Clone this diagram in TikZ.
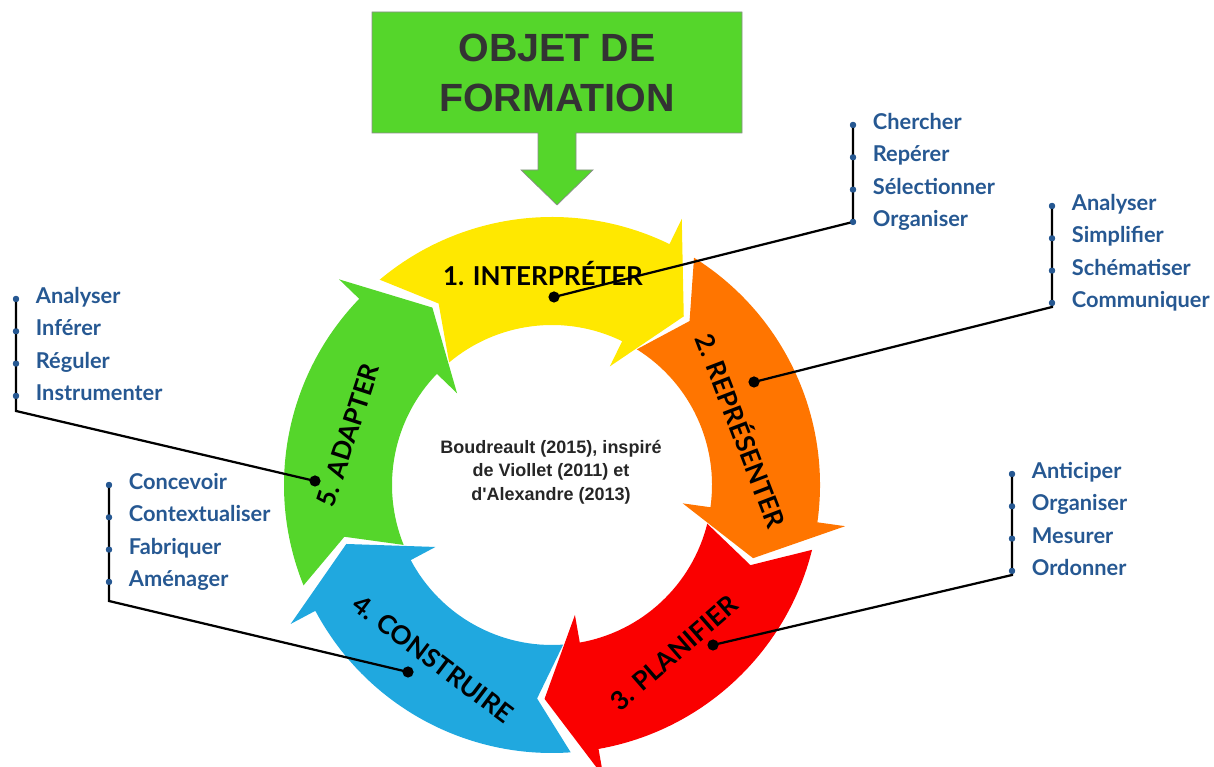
\documentclass[tikz,border=0pt]{standalone}
\usepackage{fontspec}
\usepackage{xcolor}
\usepackage{tikz}
\usetikzlibrary{positioning}
\newfontfamily\listfont{Lato}
\newfontfamily\helv{Liberation Sans}
\definecolor{itemblue}{RGB}{38,88,146}
\definecolor{jaune}{RGB}{255,232,0}
\definecolor{orangec}{RGB}{255,117,0}
\definecolor{rouge}{RGB}{250,0,0}
\definecolor{bleu}{RGB}{32,168,223}
\definecolor{vert}{RGB}{85,214,43}
\definecolor{gristexte}{RGB}{51,51,51}
\tikzset{
  item/.style={circle,fill=itemblue,inner sep=0pt,minimum size=0.16cm},
  itemtext/.style={font=\listfont\bfseries\fontsize{15.5}{18}\selectfont,text=itemblue,inner sep=0pt,text height=1.5ex,text depth=0pt},
  pin/.style={circle,fill=black,inner sep=0pt,minimum size=0.28cm},
  link/.style={line width=1.6pt},
  steplabel/.style={font=\listfont\bfseries\fontsize{18.5}{21}\selectfont}
}

\begin{document}
\begin{tikzpicture}[x=0.025cm,y=0.025cm,every node/.style={on grid,node distance=0.8075cm}]
  \useasboundingbox (0,0) rectangle (1214,767);
  % objet de formation
  \filldraw[fill=vert,draw=black!45,line width=0.5pt] (372,755) -- (742,755) -- (742,634) -- (576,634) -- (576,597) -- (593,597) -- (557,562) -- (521,597) -- (538,597) -- (538,634) -- (372,634) -- cycle;
  \node[align=center,text=gristexte,font=\helv\bfseries\fontsize{28}{35}\selectfont] (objet) at (557,694) {OBJET DE\\FORMATION};

  % le cycle
  \begin{scope}[shift={(552,282)}]
    \foreach \b/\c in {64/jaune,-8/orangec,-80/rouge,-152/bleu,136/vert}
      \fill[\c] ({\b+66}:268) arc[start angle=\b+66,end angle=\b,radius=268] -- (\b:296) -- ({\b-12}:214) -- (\b:132) -- (\b:160) arc[start angle=\b,end angle=\b+66,radius=160] -- ({\b+58}:214) -- cycle;
  \end{scope}
  \node[steplabel] (s1) at (543,494) {1. INTERPRÉTER};
  \node[steplabel,rotate=-69] (s2) at (743,337) {2. REPRÉSENTER};
  \node[steplabel,rotate=41] (s3) at (674,114) {3. PLANIFIER};
  \node[steplabel,rotate=-37] (s4) at (433,108) {4. CONSTRUIRE};
  \node[steplabel,rotate=72] (s5) at (348,332) {5. ADAPTER};

  \node[align=center,text=black!85,font=\helv\bfseries\fontsize{12.8}{16.7}\selectfont] (source) at (551,295) {Boudreault (2015), inspiré\\de Viollet (2011) et\\d'Alexandre (2013)};

  % listes
  \node[item] (a1) at (853,642) {};
  \node[item,below of=a1] (a2) {};
  \node[item,below of=a2] (a3) {};
  \node[item,below of=a3] (a4) {};
  \node[itemtext,right=0.49cm of a1,anchor=west] (ta1) {Chercher};
  \node[itemtext,right=0.49cm of a2,anchor=west] (ta2) {Repérer};
  \node[itemtext,right=0.49cm of a3,anchor=west] (ta3) {Sélectionner};
  \node[itemtext,right=0.49cm of a4,anchor=west] (ta4) {Organiser};

  \node[item] (b1) at (1052,561) {};
  \node[item,below of=b1] (b2) {};
  \node[item,below of=b2] (b3) {};
  \node[item,below of=b3] (b4) {};
  \node[itemtext,right=0.49cm of b1,anchor=west] (tb1) {Analyser};
  \node[itemtext,right=0.49cm of b2,anchor=west] (tb2) {Simplifier};
  \node[itemtext,right=0.49cm of b3,anchor=west] (tb3) {Schématiser};
  \node[itemtext,right=0.49cm of b4,anchor=west] (tb4) {Communiquer};

  \node[item] (c1) at (1012,293) {};
  \node[item,below of=c1] (c2) {};
  \node[item,below of=c2] (c3) {};
  \node[item,below of=c3] (c4) {};
  \node[itemtext,right=0.49cm of c1,anchor=west] (tc1) {Anticiper};
  \node[itemtext,right=0.49cm of c2,anchor=west] (tc2) {Organiser};
  \node[itemtext,right=0.49cm of c3,anchor=west] (tc3) {Mesurer};
  \node[itemtext,right=0.49cm of c4,anchor=west] (tc4) {Ordonner};

  \node[item] (d1) at (16,468) {};
  \node[item,below of=d1] (d2) {};
  \node[item,below of=d2] (d3) {};
  \node[item,below of=d3] (d4) {};
  \node[itemtext,right=0.49cm of d1,anchor=west] (td1) {Analyser};
  \node[itemtext,right=0.49cm of d2,anchor=west] (td2) {Inférer};
  \node[itemtext,right=0.49cm of d3,anchor=west] (td3) {Réguler};
  \node[itemtext,right=0.49cm of d4,anchor=west] (td4) {Instrumenter};

  \node[item] (e1) at (109,282) {};
  \node[item,below of=e1] (e2) {};
  \node[item,below of=e2] (e3) {};
  \node[item,below of=e3] (e4) {};
  \node[itemtext,right=0.49cm of e1,anchor=west] (te1) {Concevoir};
  \node[itemtext,right=0.49cm of e2,anchor=west] (te2) {Contextualiser};
  \node[itemtext,right=0.49cm of e3,anchor=west] (te3) {Fabriquer};
  \node[itemtext,right=0.49cm of e4,anchor=west] (te4) {Aménager};

  \coordinate (kb) at (1052,460);
  \coordinate (kc) at (1012,192);
  \coordinate (kd) at (16,356);
  \coordinate (ke) at (109,166);

  % liens
  \draw[link] (a1.center) -- (a2.center) -- (a3.center) -- (a4.center) -- (554,470) node[pin] (p1) {};
  \draw[link] (b1.center) -- (b2.center) -- (b3.center) -- (b4.center) -- (kb) -- (754,385) node[pin] (p2) {};
  \draw[link] (c1.center) -- (c2.center) -- (c3.center) -- (c4.center) -- (kc) -- (713,122) node[pin] (p3) {};
  \draw[link] (d1.center) -- (d2.center) -- (d3.center) -- (d4.center) -- (kd) -- (315,286) node[pin] (p5) {};
  \draw[link] (e1.center) -- (e2.center) -- (e3.center) -- (e4.center) -- (ke) -- (408,95) node[pin] (p4) {};
  \foreach \n in {a1,a2,a3,a4,b1,b2,b3,b4,c1,c2,c3,c4,d1,d2,d3,d4,e1,e2,e3,e4}
    \fill[itemblue] (\n) circle[radius=3];
\end{tikzpicture}
\end{document}
